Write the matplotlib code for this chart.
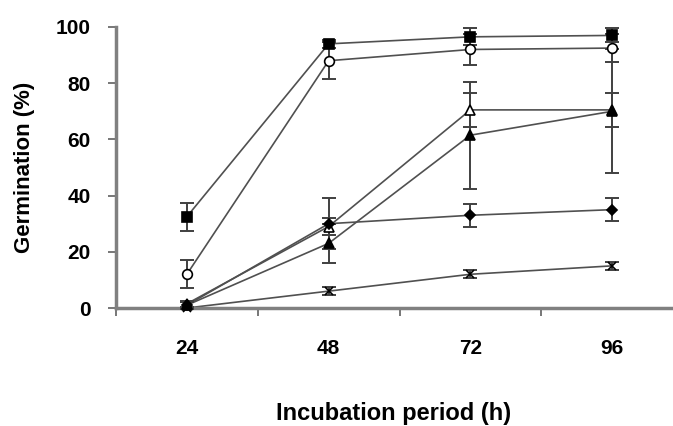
import matplotlib.pyplot as plt
import numpy as np

# Datos
horas = [24, 48, 72, 96]
cuadrado_lleno = [32.5, 94, 96.5, 97]
cuadrado_lleno_err = [5, 1.5, 3, 2.5]
circulo_vacio = [12, 88, 92, 92.5]
circulo_vacio_err = [5, 6.5, 5.5, 5]
triangulo_vacio = [1.5, 29, 70.5, 70.5]
triangulo_vacio_err = [1, 3, 6, 6]
triangulo_lleno = [1, 23, 61.5, 70]
triangulo_lleno_err = [1, 7, 19, 22]
rombo = [1, 30, 33, 35]
rombo_err = [1, 9, 4, 4]
cruz = [0, 6, 12, 15]
cruz_err = [0.5, 1.5, 1.5, 1.5]

plt.rcParams['font.family'] = ['Liberation Sans', 'DejaVu Sans']

fig = plt.figure(figsize=(6.73, 4.26), dpi=100)
ax = fig.add_axes([116 / 673, 1 - 308 / 426, 567 / 673, 281 / 426])

x = np.arange(len(horas))
series = [
    (cuadrado_lleno, cuadrado_lleno_err, 's', 'black', 7),
    (circulo_vacio, circulo_vacio_err, 'o', 'white', 7),
    (triangulo_vacio, triangulo_vacio_err, '^', 'white', 7),
    (triangulo_lleno, triangulo_lleno_err, '^', 'black', 7),
    (rombo, rombo_err, 'D', 'black', 5.5),
    (cruz, cruz_err, 'x', 'black', 6),
]
for y, err, m, fc, ms in series:
    ax.plot(x, y, color='#505050', lw=1.2, zorder=2, clip_on=False)
    ax.errorbar(x, y, yerr=err, fmt='none', ecolor='#404040', elinewidth=1.4,
                capsize=5, capthick=1.4, zorder=3, clip_on=False)
    ax.plot(x, y, ls='none', marker=m, markersize=ms, markerfacecolor=fc,
            markeredgecolor='black', markeredgewidth=1.2, zorder=4, clip_on=False)

ax.set_xlim(-0.5, 3.5)
ax.set_ylim(0, 100)
ax.set_yticks([0, 20, 40, 60, 80, 100])
ax.set_xticks(x)
ax.set_xticklabels([str(h) for h in horas])
ax.set_xticks([-0.5, 0.5, 1.5, 2.5], minor=True)
ax.tick_params(axis='x', which='major', length=0, pad=22, labelsize=15)
ax.tick_params(axis='x', which='minor', length=6, width=1.2, color='#606060', direction='out')
ax.tick_params(axis='y', length=6, width=1.2, color='#606060', direction='out', labelsize=15, pad=12)
for lab in ax.get_xticklabels() + ax.get_yticklabels():
    lab.set_fontweight('bold')

for s in ['top', 'right']:
    ax.spines[s].set_visible(False)
for s in ['left', 'bottom']:
    ax.spines[s].set_color('#808080')
    ax.spines[s].set_linewidth(2.5)

fig.text(25 / 673, 1 - 167 / 426, 'Germination (%)', rotation=90, ha='center', va='center',
         fontsize=16, fontweight='bold')
fig.text(394 / 673, 1 - 420 / 426, 'Incubation period (h)', ha='center', va='baseline',
         fontsize=17, fontweight='bold')

fig.savefig('out.png', dpi=100, facecolor='white')
